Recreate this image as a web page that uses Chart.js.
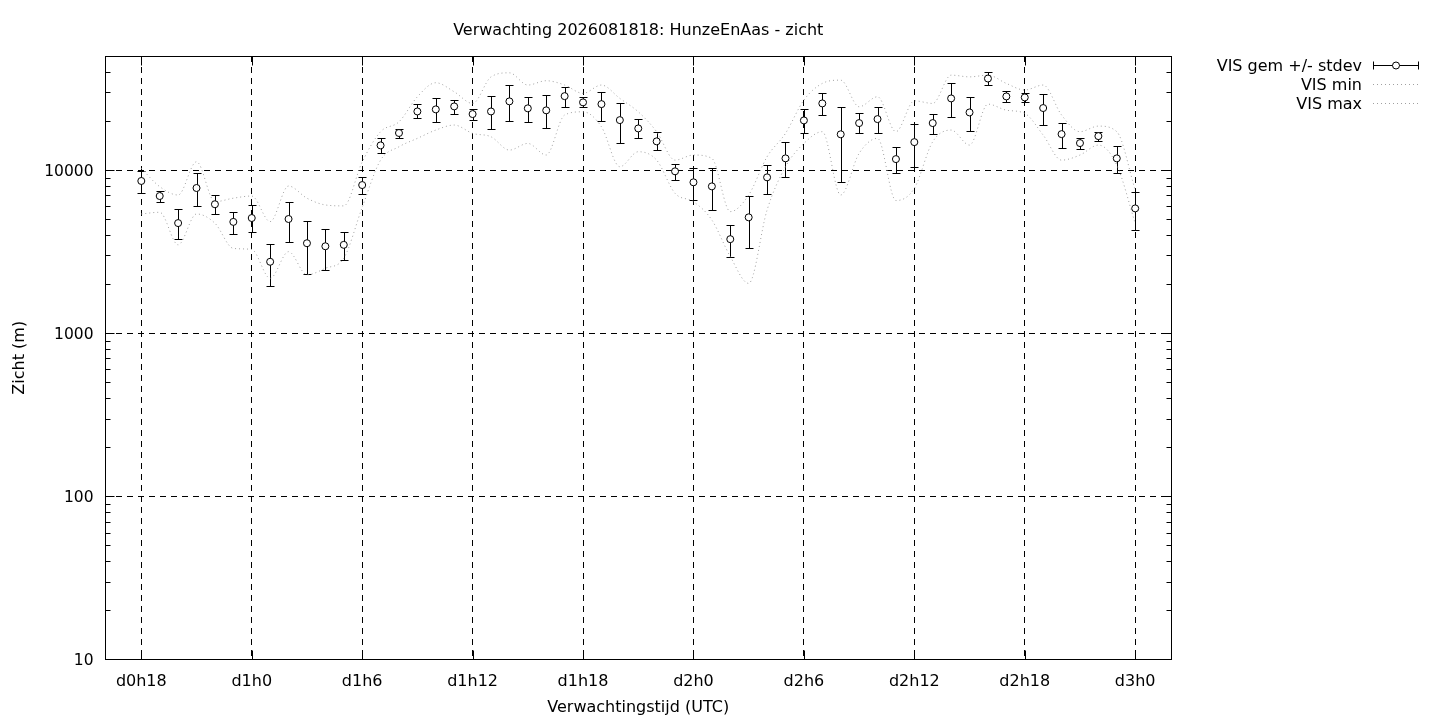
<!DOCTYPE html>
<html lang="nl">
<head>
  <meta charset="UTF-8">
  <title>Verwachting 2026081818: HunzeEnAas - zicht</title>
  <script src="https://cdn.jsdelivr.net/npm/chart.js"></script>
  <style>
    body {
      margin: 0;
      background: #fff;
    }
    canvas {
      display: block;
    }
  </style>
</head>
<body>
  <canvas id="zichtChart" width="1440" height="720"></canvas>

  <script>
    // forecast hour (since d0h0), one point per hour
    const hours = [18, 19, 20, 21, 22, 23, 24, 25, 26, 27, 28, 29, 30,
      31, 32, 33, 34, 35, 36, 37, 38, 39, 40, 41, 42, 43, 44,
      45, 46, 47, 48, 49, 50, 51, 52, 53, 54, 55, 56, 57, 58,
      59, 60, 61, 62, 63, 64, 65, 66, 67, 68, 69, 70, 71, 72];

    const visMean = [8570, 6930, 4730, 7760, 6170, 4810, 5080, 2740, 5010, 3560, 3410, 3480, 8090,
      14160, 16870, 22860, 23540, 24550, 22030, 22860, 26350, 23890, 23220, 28370, 25990, 25350, 20230,
      17990, 14990, 9820, 8410, 7940, 3770, 5130, 9020, 11790, 20150, 25600, 16560, 19400, 20520,
      11670, 14830, 19400, 27480, 22550, 36380, 28260, 27870, 23990, 16600, 14630, 16140, 11790, 5820];

    // gem - stdev / gem + stdev
    const visLow = [7200, 6340, 3770, 6030, 5380, 4060, 4170, 1940, 3620, 2310, 2440, 2810, 7130,
      12650, 15640, 20730, 19680, 21950, 20150, 17760, 19860, 19580, 17990, 24230, 24230, 19860, 14590,
      15640, 13200, 8690, 6580, 5660, 2920, 3310, 7100, 9020, 16870, 21630, 8490, 16870, 16870,
      9550, 10390, 16560, 21050, 17340, 33190, 25990, 25990, 18800, 13580, 13390, 15050, 9550, 4270];

    const visHigh = [9860, 7470, 5740, 9550, 7000, 5510, 6080, 3510, 6340, 4850, 4340, 4150, 9100,
      15640, 17760, 25350, 27480, 26980, 23640, 28260, 33190, 27870, 28670, 32060, 27870, 30180, 25600,
      20410, 17030, 10930, 10240, 10240, 4580, 6970, 10770, 14780, 23540, 29700, 24420, 22240, 24230,
      13780, 19130, 21950, 33950, 27870, 40000, 30600, 29700, 29080, 19320, 15640, 17090, 14090, 7360];

    const visMin = [5380, 5510, 3480, 5380, 4720, 3310, 3260, 2170, 3160, 2280, 2500, 2880, 5900,
      11500, 13890, 15640, 17580, 18870, 16780, 15990, 13250, 14560, 12360, 21740, 22750, 18410, 10480,
      12950, 11500, 7200, 6400, 4940, 2950, 2020, 5690, 10480, 14560, 17180, 7030, 12650, 15640,
      6500, 7730, 14920, 17580, 14220, 25350, 23280, 22240, 16380, 11500, 12360, 14220, 10730, 4720];

    const visMax = [10240, 7910, 7030, 11240, 6400, 6720, 6930, 4830, 7980, 6720, 6110, 6030, 11200,
      17180, 19750, 28130, 34280, 30180, 25600, 37240, 39430, 33190, 35270, 33190, 29510, 33190, 27480,
      22750, 17180, 11500, 12360, 11790, 5560, 7030, 12070, 16780, 26850, 33950, 35560, 24420, 28130,
      17180, 26560, 25600, 38170, 37240, 38170, 33950, 30930, 33190, 21740, 17180, 18590, 17180, 7550];

    const xTickHours = [18, 24, 30, 36, 42, 48, 54, 60, 66, 72];
    const xTickLabels = ['d0h18', 'd1h0', 'd1h6', 'd1h12', 'd1h18', 'd2h0', 'd2h6', 'd2h12', 'd2h18', 'd3h0'];
    const yTickValues = [10, 100, 1000, 10000];

    const FONT = '"DejaVu Sans", sans-serif';
    const GREY = '#a0a0a0';

    Chart.defaults.font.family = FONT;
    Chart.defaults.font.size = 16;
    Chart.defaults.color = '#000';

    // error bars (gem +/- stdev), drawn under the circles
    const errorBars = {
      id: 'errorBars',
      beforeDatasetsDraw(chart) {
        const { ctx, scales: { x, y } } = chart;
        ctx.save();
        ctx.strokeStyle = '#000';
        ctx.lineWidth = 1;
        hours.forEach((h, i) => {
          const px = Math.round(x.getPixelForValue(h)) + 0.5;
          const top = Math.round(y.getPixelForValue(visHigh[i])) + 0.5;
          const bot = Math.round(y.getPixelForValue(visLow[i])) + 0.5;
          ctx.beginPath();
          ctx.moveTo(px, top);
          ctx.lineTo(px, bot);
          ctx.moveTo(px - 4, top);
          ctx.lineTo(px + 4, top);
          ctx.moveTo(px - 4, bot);
          ctx.lineTo(px + 4, bot);
          ctx.stroke();
        });
        ctx.restore();
      }
    };

    // gnuplot style frame with inward ticks on all four sides
    const frame = {
      id: 'frame',
      afterDatasetsDraw(chart) {
        const { ctx, chartArea: a, scales: { x, y } } = chart;
        const l = Math.round(a.left) + 0.5, r = Math.round(a.right) - 0.5;
        const t = Math.round(a.top) + 0.5, b = Math.round(a.bottom) - 0.5;
        ctx.save();
        ctx.strokeStyle = '#000';
        ctx.lineWidth = 1;
        ctx.beginPath();
        xTickHours.forEach(h => {
          const px = Math.round(x.getPixelForValue(h)) + 0.5;
          ctx.moveTo(px, b); ctx.lineTo(px, b - 9);
          ctx.moveTo(px, t); ctx.lineTo(px, t + 9);
        });
        yTickValues.forEach(dec => {
          for (let k = 1; k <= 9; k++) {
            const v = dec * k;
            if (v > y.max) break;
            const py = Math.min(b, Math.round(y.getPixelForValue(v)) + 0.5);
            if (py >= b) continue;
            const len = k === 1 ? 9 : 5;
            ctx.moveTo(l, py); ctx.lineTo(l + len, py);
            ctx.moveTo(r, py); ctx.lineTo(r - len, py);
          }
        });
        ctx.stroke();
        ctx.strokeRect(l, t, r - l, b - t);
        ctx.restore();
      }
    };

    // legend outside the plot, top right
    const keyBox = {
      id: 'keyBox',
      afterDraw(chart) {
        const ctx = chart.ctx;
        const textRight = 1362, x0 = 1373, x1 = 1419;
        ctx.save();
        ctx.font = '16px ' + FONT;
        ctx.textAlign = 'right';
        ctx.textBaseline = 'middle';
        ctx.fillStyle = '#000';
        chart.data.datasets.forEach((ds, i) => {
          const yy = 65 + i * 19;
          ctx.fillText(ds.label, textRight, yy + 1.5);
          const py = Math.round(yy) + 0.5;
          ctx.beginPath();
          if (i === 0) {
            ctx.strokeStyle = '#000';
            ctx.setLineDash([]);
            ctx.moveTo(x0, py); ctx.lineTo(x1, py);
            ctx.moveTo(x0 + 0.5, py - 4); ctx.lineTo(x0 + 0.5, py + 4);
            ctx.moveTo(x1 - 0.5, py - 4); ctx.lineTo(x1 - 0.5, py + 4);
            ctx.stroke();
            ctx.beginPath();
            ctx.arc((x0 + x1) / 2, py, 3.5, 0, Math.PI * 2);
            ctx.fillStyle = '#fff';
            ctx.fill();
            ctx.stroke();
            ctx.fillStyle = '#000';
          } else {
            ctx.strokeStyle = GREY;
            ctx.setLineDash(ds.borderDash);
            ctx.moveTo(x0, py); ctx.lineTo(x1, py);
            ctx.stroke();
          }
        });
        ctx.restore();
      }
    };

    const toPoints = arr => hours.map((h, i) => ({ x: h, y: arr[i] }));

    const ctx = document.getElementById('zichtChart').getContext('2d');
    new Chart(ctx, {
      type: 'line',
      data: {
        datasets: [
          {
            label: 'VIS gem +/- stdev',
            data: toPoints(visMean),
            showLine: false,
            pointStyle: 'circle',
            pointRadius: 3.5,
            pointBorderWidth: 1,
            pointBorderColor: '#000',
            pointBackgroundColor: '#fff'
          },
          {
            label: 'VIS min',
            data: toPoints(visMin),
            borderColor: GREY,
            borderWidth: 1,
            borderDash: [1, 3],
            pointRadius: 0,
            cubicInterpolationMode: 'monotone',
            fill: false
          },
          {
            label: 'VIS max',
            data: toPoints(visMax),
            borderColor: GREY,
            borderWidth: 1,
            borderDash: [1, 3],
            pointRadius: 0,
            cubicInterpolationMode: 'monotone',
            fill: false
          }
        ]
      },
      options: {
        responsive: false,
        animation: false,
        devicePixelRatio: 1,
        layout: {
          padding: { left: 0, right: 268, top: 0, bottom: 0 }
        },
        plugins: {
          legend: { display: false },
          tooltip: { enabled: false },
          title: {
            display: true,
            fullSize: false,
            text: 'Verwachting 2026081818: HunzeEnAas - zicht',
            font: { size: 16, weight: 'normal' },
            color: '#000',
            padding: { top: 21.4, bottom: 15.4 }
          }
        },
        scales: {
          x: {
            type: 'linear',
            min: 16,
            max: 74,
            afterBuildTicks: scale => {
              scale.ticks = xTickHours.map(v => ({ value: v }));
            },
            afterFit: scale => {
              scale.height = 60.5;
            },
            ticks: {
              autoSkip: false,
              maxRotation: 0,
              padding: 12.5,
              callback: v => xTickLabels[xTickHours.indexOf(v)]
            },
            grid: {
              color: '#000',
              lineWidth: 1,
              drawTicks: false
            },
            border: { display: false, dash: [6, 5] },
            title: {
              display: true,
              text: 'Verwachtingstijd (UTC)',
              padding: { top: 0, bottom: 2.4 }
            }
          },
          y: {
            type: 'logarithmic',
            min: 10,
            max: 50000,
            afterBuildTicks: scale => {
              scale.ticks = yTickValues.map(v => ({ value: v }));
            },
            afterFit: scale => {
              scale.width = 104.5;
            },
            ticks: {
              autoSkip: false,
              padding: 11,
              labelOffset: 1.5,
              font: { size: 15.5 },
              callback: v => String(v)
            },
            grid: {
              color: ctx => ctx.tick && ctx.tick.value === 10 ? 'rgba(0,0,0,0)' : '#000',
              lineWidth: 1,
              drawTicks: false
            },
            border: { display: false, dash: [6, 5] },
            title: {
              display: true,
              text: 'Zicht (m)',
              padding: { top: 9.9, bottom: 0 }
            }
          }
        }
      },
      plugins: [errorBars, frame, keyBox]
    });
  </script>
</body>
</html>
